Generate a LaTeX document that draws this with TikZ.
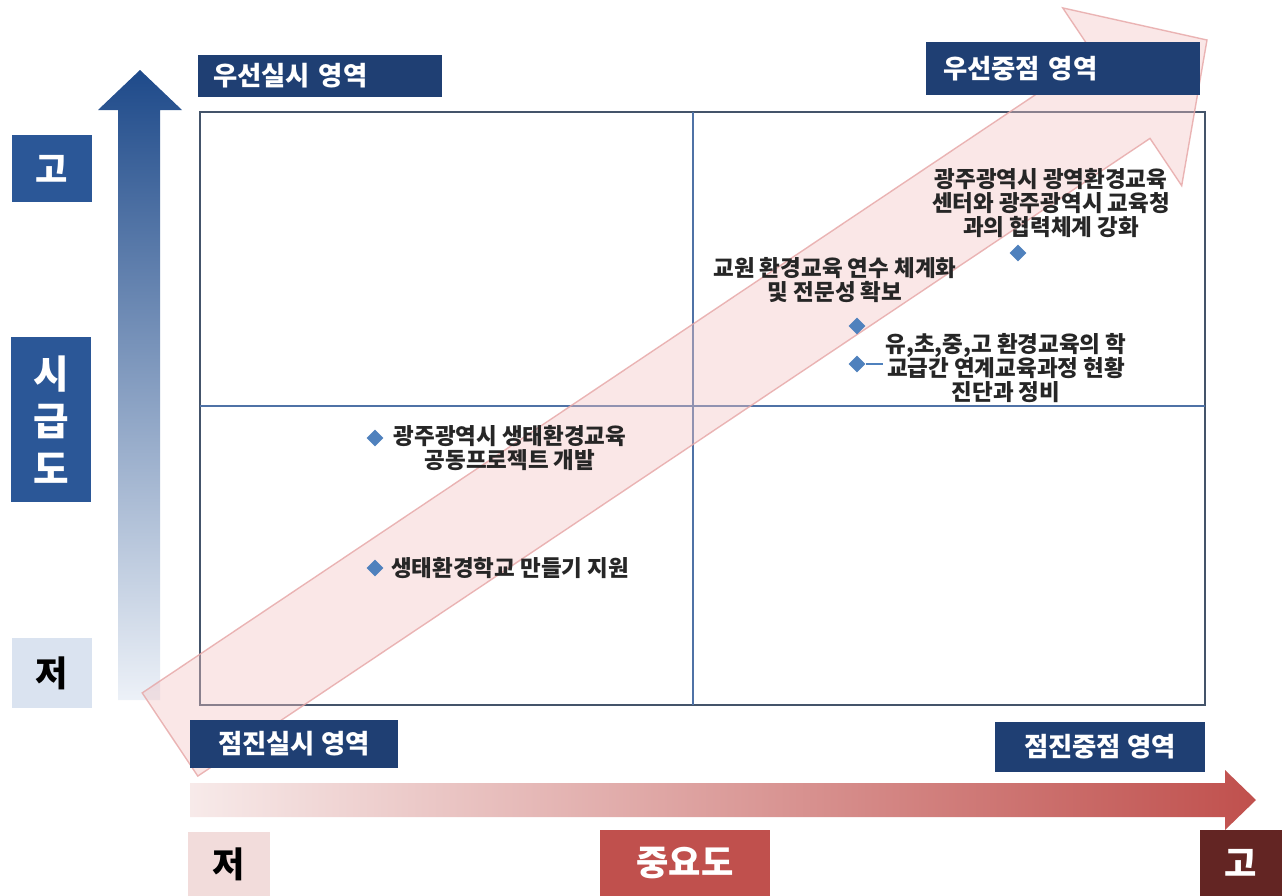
\documentclass[tikz,border=0pt]{standalone}
\usepackage{fontspec}
\newfontfamily\kr{Noto Sans CJK KR}
\usepackage{tikz}
\usetikzlibrary{positioning,shapes.geometric}
\definecolor{zoneblue}{HTML}{1F3F73}
\definecolor{scaleblue}{HTML}{2B5797}
\definecolor{axisblue}{HTML}{1E4A8A}
\definecolor{axismid}{HTML}{4F86D2}
\definecolor{paleblue}{HTML}{DAE3F0}
\definecolor{palepink}{HTML}{F2DCDB}
\definecolor{keyred}{HTML}{C0504D}
\definecolor{darkred}{HTML}{632523}
\definecolor{framegray}{HTML}{44546A}
\definecolor{gridblue}{HTML}{4F72A6}
\definecolor{markblue}{HTML}{4F81BD}
\definecolor{bandpink}{HTML}{F2C2C2}
\definecolor{bandedge}{HTML}{E6A5A5}
\definecolor{inktext}{HTML}{262626}

\begin{document}
\begin{tikzpicture}[
  x=0.02cm, y=-0.02cm,
  zone/.style={fill=zoneblue, text=white, font=\kr\bfseries\fontsize{15}{18}\selectfont, inner sep=0pt},
  scalebox/.style={inner sep=0pt, align=center, minimum width=1.6cm, font=\kr\bfseries\fontsize{20}{24}\selectfont},
  item/.style={font=\kr\bfseries\fontsize{12.8}{13.9}\selectfont, text=inktext, align=center, inner sep=1pt},
  marker/.style={diamond, fill=markblue, inner sep=0pt, minimum size=0.34cm}
]
\useasboundingbox (0,0) rectangle (1286,896);

% axes
\shade[top color=axisblue, middle color=axismid, bottom color=paleblue!50]
  (118,700) -- (118,110) -- (98,110) -- (140,70) -- (182,110) -- (160,110) -- (160,700) -- cycle;
\shade[left color=palepink!60, right color=keyred]
  (190,783) -- (1225,783) -- (1225,770) -- (1256,800) -- (1225,830) -- (1225,817) -- (190,817) -- cycle;

% plane
\draw[framegray, line width=1.4pt] (200,112) rectangle (1205,705);
\draw[gridblue, line width=0.8pt] (693,112) -- (693,705);
\draw[gridblue, line width=0.8pt] (200,406) -- (1205,406);

% direction band
\filldraw[fill=bandpink, fill opacity=0.4, draw=bandedge, draw opacity=0.8, line width=0.8pt]
  (142.2,692.9) -- (1094.4,55.2) -- (1062.7,7.9) -- (1207,40) -- (1181.7,185.7) -- (1150,138.4) -- (197.8,776.1) -- cycle;

% zone labels
\node[zone, minimum width=4.88cm, minimum height=0.84cm, text width=4.28cm, align=left] (zoneA) at (320,76) {우선실시 영역};
\node[zone, minimum width=5.48cm, minimum height=1.06cm, text width=4.8cm, align=left] (zoneB) at (1063,68.5) {우선중점 영역};
\node[zone, minimum width=4.16cm, minimum height=0.96cm, align=center] (zoneC) at (294,744) {점진실시 영역};
\node[zone, minimum width=4.2cm, minimum height=1cm, align=center] (zoneD) at (1100,747) {점진중점 영역};

% scale labels
\node[scalebox, fill=scaleblue, text=white, minimum height=1.34cm] (hiV) at (52,168.5) {고};
\node[scalebox, fill=scaleblue, text=white, minimum height=3.3cm, font=\kr\bfseries\fontsize{22}{27}\selectfont] (urgency) at (51,419.5) {시\\급\\도};
\node[scalebox, fill=paleblue, text=black, minimum height=1.4cm] (loV) at (52,673) {저};
\node[scalebox, fill=palepink, text=black, minimum width=1.64cm, minimum height=1.28cm] (loH) at (229,864) {저};
\node[scalebox, fill=keyred, text=white, minimum width=3.4cm, minimum height=1.32cm] (importance) at (685,863) {중요도};
\node[scalebox, fill=darkred, text=white, minimum width=1.64cm, minimum height=1.32cm] (hiH) at (1241,863) {고};

% tasks
\node[marker] (m1) at (1018,253) {};
\node[marker] (m2) at (857,326) {};
\node[marker] (m3) at (857,364) {};
\node[marker] (m4) at (375,438) {};
\node[marker] (m5) at (375,568) {};
\node[item] (t1) at (1051,203) {광주광역시 광역환경교육\\센터와 광주광역시 교육청\\과의 협력체계 강화};
\node[item] (t2) at (835,280) {교원 환경교육 연수 체계화\\및 전문성 확보};
\node[item] (t3) at (1006,368) {유,초,중,고 환경교육의 학\\교급간 연계교육과정 현황\\진단과 정비};
\node[item] (t4) at (510,448) {광주광역시 생태환경교육\\공동프로젝트 개발};
\node[item, right=3pt of m5] (t5) {생태환경학교 만들기 지원};
\draw[markblue, line width=1pt] (m3) -- (t3.west |- m3);
\end{tikzpicture}
\end{document}
